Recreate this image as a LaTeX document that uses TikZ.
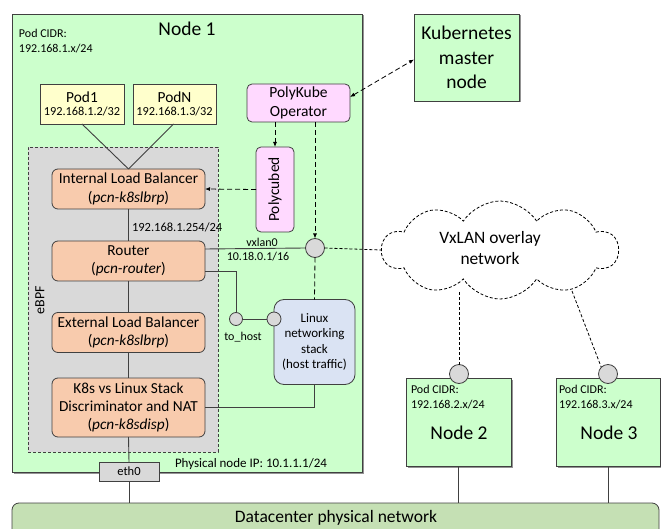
\documentclass[tikz,border=0pt]{standalone}
\usepackage{fontspec}
\setmainfont{Carlito}
\usetikzlibrary{arrows.meta,shapes.symbols,shadows}
\definecolor{ngreen}{HTML}{CCFFCC}
\definecolor{pyellow}{HTML}{FFFFCC}
\definecolor{ppink}{HTML}{FFD9FF}
\definecolor{porange}{HTML}{F8CBAD}
\definecolor{egray}{HTML}{D9D9D9}
\definecolor{lblue}{HTML}{DAE3F3}
\definecolor{dcgreen}{HTML}{C5E0B4}
\definecolor{ln}{HTML}{404040}
\newcommand{\fsz}[1]{\fontsize{#1}{\dimexpr #1pt*6/5\relax}\selectfont}
\tikzset{
  box/.style={draw=ln, line width=0.8pt, inner sep=0pt, outer sep=0pt, align=center},
  shad/.style={drop shadow={shadow xshift=1.5pt, shadow yshift=-1.5pt, fill=black!60, opacity=0.7}},
  greenbox/.style={box, fill=ngreen, shad},
  orangebox/.style={box, fill=porange, rounded corners=6pt, minimum width=153pt, font=\fsz{15.3}},
  pinkbox/.style={box, fill=ppink, rounded corners=5pt},
  port/.style={circle, draw=ln, line width=0.8pt, fill=egray, inner sep=0pt, outer sep=0pt},
  conn/.style={draw=ln, line width=0.9pt},
  dconn/.style={draw=black, line width=0.8pt, dash pattern=on 5pt off 3pt},
  tip/.style={-{Latex[length=5pt,width=4pt]}},
  lbl/.style={inner sep=0pt, outer sep=0pt, align=left},
}
\begin{document}
\begin{tikzpicture}[x=1pt,y=-1pt]
\useasboundingbox (0,0) rectangle (661,529);
% Node 1
\node[greenbox, minimum width=350pt, minimum height=458pt] (node1) at (187,243) {};
\node[lbl, font=\fsz{19.5}] (n1t) at (187,29) {Node 1};
\node[lbl, anchor=west, font=\fsz{12}] (n1cidr) at (19,41) {Pod CIDR:\\[0pt]192.168.1.x/24};
% Pods
\node[box, fill=pyellow, minimum width=84pt, minimum height=40pt, font=\fsz{12.3}] (pod1) at (82,104) {{\fsz{15.4}Pod1}\\[-1pt]192.168.1.2/32};
\node[box, fill=pyellow, minimum width=83pt, minimum height=40pt, font=\fsz{12.3}] (podN) at (174.5,104) {{\fsz{15.4}PodN}\\[-1pt]192.168.1.3/32};
\node[pinkbox, minimum width=103pt, minimum height=38pt, font=\fsz{15.5}] (oper) at (298.5,103) {PolyKube\\Operator};
% master
\node[greenbox, minimum width=105pt, minimum height=87pt, font=\fsz{19.5}] (master) at (466.5,57.5) {Kubernetes\\[1pt]master\\[1pt]node};
% eBPF
\node[box, draw=ln, fill=egray, dash pattern=on 3pt off 2pt, line width=0.8pt, minimum width=190pt, minimum height=305pt] (ebpf) at (123,299.5) {};
\node[lbl, rotate=90, font=\fsz{14}] (ebpft) at (40,300) {eBPF};
\node[orangebox, minimum height=40pt] (ilb) at (128.5,189) {Internal Load Balancer\\[0pt](\textit{pcn-k8slbrp})};
\node[orangebox, minimum height=40pt] (router) at (128.5,261) {Router\\[0pt](\textit{pcn-router})};
\node[orangebox, minimum height=40pt] (elb) at (128.5,332.5) {External Load Balancer\\[0pt](\textit{pcn-k8slbrp})};
\node[orangebox, minimum height=59pt] (disc) at (128.5,407.5) {K8s vs Linux Stack\\[0pt]Discriminator and NAT\\[0pt](\textit{pcn-k8sdisp})};
% Polycubed
\node[pinkbox, minimum width=38pt, minimum height=85pt] (pcd) at (275,189.5) {};
\node[lbl, rotate=90, font=\fsz{15.4}] (pcdt) at (275,189.5) {Polycubed};
% Linux stack
\node[box, fill=lblue, rounded corners=10pt, minimum width=81pt, minimum height=85pt, font=\fsz{13}] (linux) at (314.5,342) {Linux\\networking\\stack\\(host traffic)};
% ports
\node[port, minimum size=19pt] (vx) at (315,248) {};
\node[port, minimum size=13pt] (th) at (236,319) {};
\node[port, minimum size=14pt] (lc) at (274,319) {};
\node[lbl, font=\fsz{12}] (vxt) at (262,242.5) {vxlan0};
\node[lbl, font=\fsz{12}] (vxip) at (258,256.5) {10.18.0.1/16};
\node[lbl, font=\fsz{12}] (tht) at (243,337) {to\_host};
\node[lbl, anchor=west, font=\fsz{12.5}] (ilbip) at (132,227.5) {192.168.1.254/24};
% eth0
\node[box, fill=egray, minimum width=60pt, minimum height=19pt, font=\fsz{12.5}] (eth0) at (129,471.5) {eth0};
\node[lbl, anchor=west, font=\fsz{13}] (phys) at (175,464) {Physical node IP: 10.1.1.1/24};
% Datacenter
\node[box, fill=dcgreen, rounded corners=7pt, minimum width=647pt, minimum height=40pt] (dc) at (335.5,523) {};
\node[lbl, font=\fsz{17.5}] (dct) at (336,518) {Datacenter physical network};
% cloud
\node[cloud, draw=black, line width=0.8pt, dash pattern=on 3pt off 2pt, cloud puffs=10, cloud puff arc=115, aspect=2.4, minimum width=236pt, minimum height=98pt, inner sep=0pt, fill=white] (cloud) at (500,250) {};
\node[lbl, align=center, font=\fsz{17.4}] (cloudt) at (490,248) {VxLAN overlay\\network};
% Nodes 2 and 3
\node[greenbox, minimum width=105pt, minimum height=88pt] (node2) at (458.5,422) {};
\node[greenbox, minimum width=104pt, minimum height=88pt] (node3) at (608,422) {};
\node[lbl, anchor=west, font=\fsz{12}] (n2cidr) at (411,397) {Pod CIDR:\\[0pt]192.168.2.x/24};
\node[lbl, anchor=west, font=\fsz{12}] (n3cidr) at (559,397) {Pod CIDR:\\[0pt]192.168.3.x/24};
\node[lbl, font=\fsz{19.5}] (n2t) at (459,433) {Node 2};
\node[lbl, font=\fsz{19.5}] (n3t) at (609,433) {Node 3};
\node[port, minimum size=19pt] (n2c) at (459,374) {};
\node[port, minimum size=19pt] (n3c) at (608,374) {};
% connectors
\draw[conn] (pod1.south) -- (ilb.north);
\draw[conn] ([xshift=-1pt]podN.south) -- (ilb.north);
\draw[conn] (ilb.south) -- (router.north);
\draw[conn] (router.south) -- (elb.north);
\draw[conn] (elb.south) -- (disc.north);
\draw[conn] (disc.south) -- (eth0.north);
\draw[conn] (eth0.south) -- (dc.north -| eth0.south);
\draw[conn] ([yshift=12pt]router.east) -- (vx.west);
\draw[conn] ([yshift=-10pt]router.east) -| (th.north);
\draw[conn] (th.east) -- (lc.west);
\draw[conn] (disc.east) -| (linux.south);
\draw[conn] (node2.south) -- (node2.south |- dc.north);
\draw[conn] (node3.south) -- (node3.south |- dc.north);
% dashed
\draw[dconn, tip] (oper.south -| pcd.north) -- (pcd.north);
\draw[dconn, tip] (pcd.west) -- (ilb.east);
\draw[dconn, tip] (oper.south -| vx.north) -- (vx.north);
\draw[dconn] (vx.south) -- (linux.north);
\draw[dconn, {Latex[length=5pt,width=4pt]}-{Latex[length=5pt,width=4pt]}] ([yshift=6pt]oper.east) -- ([yshift=-2pt]master.west);
\draw[dconn, dash pattern=on 3pt off 2pt] (vx.east) -- (cloud.west);
\coordinate (c2) at (459,292);
\coordinate (c3) at (572,291);
\draw[dconn, dash pattern=on 3pt off 2pt] (c2) -- (n2c.north);
\draw[dconn, dash pattern=on 3pt off 2pt] (c3) -- (n3c.north west);
\end{tikzpicture}
\end{document}
